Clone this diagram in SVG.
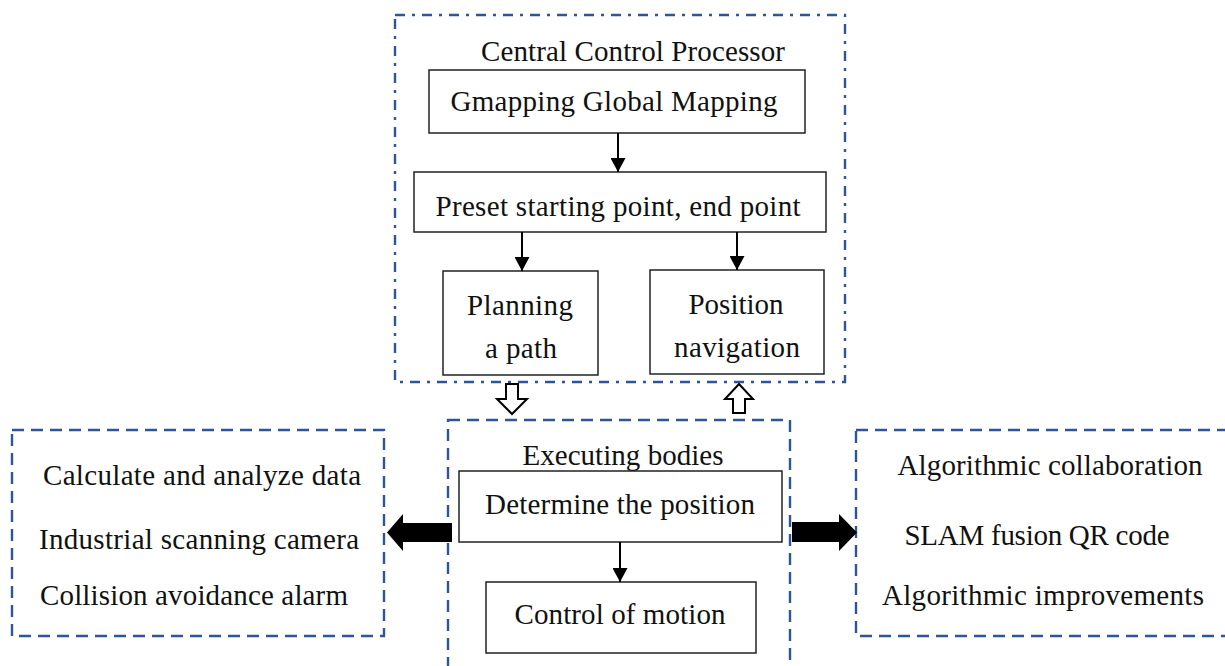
<svg xmlns="http://www.w3.org/2000/svg" width="1225" height="666" viewBox="0 0 1225 666">
  <style>
    .t { font-family: "Liberation Serif", "Times New Roman", serif; font-size: 29px; fill: #111; text-anchor: middle; }
    .box { fill: #fff; stroke: #222; stroke-width: 1.5; }
    .dashdot { fill: none; stroke: #2f5597; stroke-width: 2.4; stroke-dasharray: 10 7 3 7; }
    .dash { fill: none; stroke: #2f5597; stroke-width: 2.4; stroke-dasharray: 12 7; }
    .link { stroke: #000; stroke-width: 2; fill: none; }
    .solid { fill: #000; stroke: none; }
    .hollow { fill: #fff; stroke: #000; stroke-width: 2; stroke-linejoin: miter; }
  </style>
  <defs>
    <marker id="head" markerUnits="userSpaceOnUse" markerWidth="16" markerHeight="15" refX="15" refY="8" orient="auto" viewBox="0 0 15 16">
      <path d="M0,0 L15,8 L0,16 Z" fill="#000"/>
    </marker>
  </defs>

  <rect width="1225" height="666" fill="#fff"/>

  <!-- Central control processor group -->
  <g id="central-control">
    <rect class="dashdot" x="395" y="15" width="450" height="367"/>
    <text class="t" x="633" y="61" textLength="304">Central Control Processor</text>
  </g>

  <g id="gmapping">
    <rect class="box" x="429" y="70" width="376" height="63"/>
    <text class="t" x="614" y="111" textLength="327">Gmapping Global Mapping</text>
  </g>

  <g id="preset">
    <rect class="box" x="414" y="172" width="412" height="60"/>
    <text class="t" x="618" y="216" textLength="365">Preset starting point, end point</text>
  </g>

  <g id="planning">
    <rect class="box" x="443" y="271" width="155" height="104"/>
    <text class="t" x="520" y="315" textLength="106">Planning</text>
    <text class="t" x="521" y="358" textLength="72">a path</text>
  </g>

  <g id="position-navigation">
    <rect class="box" x="650" y="270" width="174" height="104"/>
    <text class="t" x="736" y="314" textLength="95">Position</text>
    <text class="t" x="737" y="357" textLength="126">navigation</text>
  </g>

  <!-- Executing bodies group -->
  <g id="executing-bodies">
    <rect class="dash" x="448" y="420" width="342" height="248"/>
    <text class="t" x="623" y="465" textLength="201">Executing bodies</text>
  </g>

  <g id="determine-position">
    <rect class="box" x="459" y="471" width="323" height="71"/>
    <text class="t" x="620" y="514" textLength="270">Determine the position</text>
  </g>

  <g id="control-motion">
    <rect class="box" x="486" y="582" width="270" height="71"/>
    <text class="t" x="620" y="624" textLength="211">Control of motion</text>
  </g>

  <!-- Sensing / data side -->
  <g id="sensing">
    <rect class="dash" x="12" y="430" width="372" height="206"/>
    <text class="t" x="202" y="485" textLength="318">Calculate and analyze data</text>
    <text class="t" x="199" y="549" textLength="320">Industrial scanning camera</text>
    <text class="t" x="194" y="605" textLength="308">Collision avoidance alarm</text>
  </g>

  <!-- Algorithm side -->
  <g id="algorithms">
    <rect class="dash" x="856" y="430" width="380" height="206"/>
    <text class="t" x="1050" y="475" textLength="305">Algorithmic collaboration</text>
    <text class="t" x="1037" y="545" textLength="265">SLAM fusion QR code</text>
    <text class="t" x="1043" y="605" textLength="322">Algorithmic improvements</text>
  </g>

  <!-- Connectors -->
  <g id="connectors">
    <line class="link" x1="618" y1="133" x2="618" y2="172" marker-end="url(#head)"/>
    <line class="link" x1="522" y1="232" x2="522" y2="271" marker-end="url(#head)"/>
    <line class="link" x1="737" y1="232" x2="737" y2="270" marker-end="url(#head)"/>
    <line class="link" x1="620" y1="542" x2="620" y2="582" marker-end="url(#head)"/>

    <!-- hollow block arrows between processor and executing bodies -->
    <path class="hollow" d="M506,384 L518,384 L518,399 L527,399 L512,414 L497,399 L506,399 Z"/>
    <path class="hollow" d="M733,413 L745,413 L745,399 L753,399 L739,384 L725,399 L733,399 Z"/>

    <!-- solid block arrows to the side panels -->
    <path class="solid" d="M452,523 L403,523 L403,514 L387,532.5 L403,551 L403,542 L452,542 Z"/>
    <path class="solid" d="M792,522 L839,522 L839,514 L857,532.5 L839,551 L839,542 L792,542 Z"/>
  </g>
</svg>
